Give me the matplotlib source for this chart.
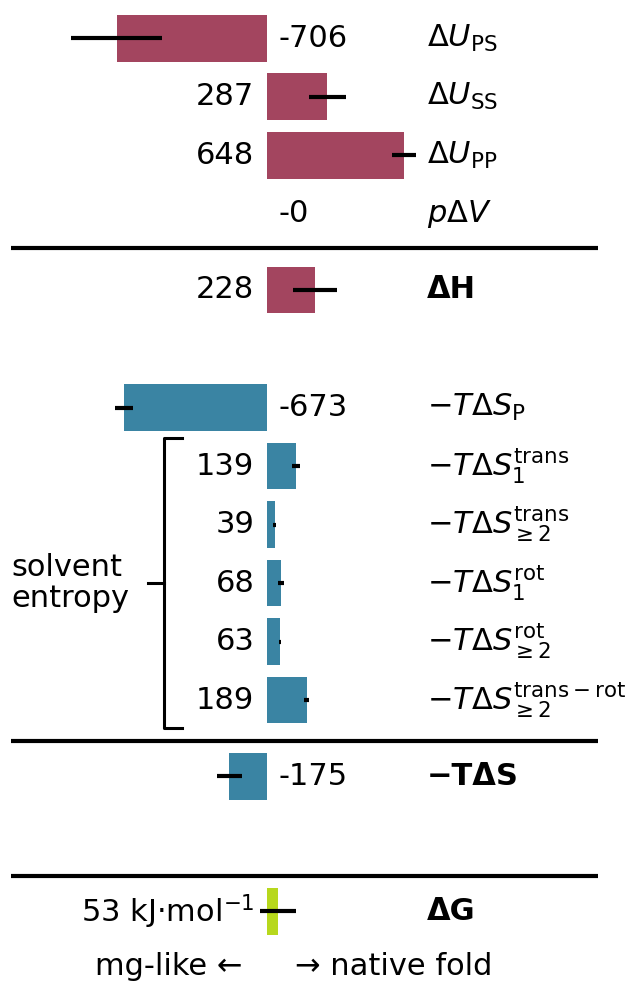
import math

import matplotlib
matplotlib.use("Agg")
import matplotlib.pyplot as plt

# rows, top to bottom
labels = [
    r"$\Delta U_\mathrm{PS}$",
    r"$\Delta U_\mathrm{SS}$",
    r"$\Delta U_\mathrm{PP}$",
    r"$p\Delta V$",
    "ΔH",
    r"$-T\Delta S_\mathrm{P}$",
    r"$-T\Delta S_1^\mathrm{trans}$",
    r"$-T\Delta S_{\geq 2}^\mathrm{trans}$",
    r"$-T\Delta S_1^\mathrm{rot}$",
    r"$-T\Delta S_{\geq 2}^\mathrm{rot}$",
    r"$-T\Delta S_{\geq 2}^{\mathrm{trans}-\mathrm{rot}}$",
    "\u2212TΔS",
    "ΔG",
]
values = [-706, 287, 648, -0.0, 228, -673, 139, 39, 68, 63, 189, -175, 53]
errors = [214, 86, 58, 0, 105, 42, 21, 7, 16, 5, 12, 60, 84]
groups = ["U", "U", "U", "U", "U", "S", "S", "S", "S", "S", "S", "S", "G"]
bold = [False, False, False, False, True, False, False, False, False, False, False, True, True]

# layout (row units, top = 0)
rows = [0, 1, 2, 3, 4.3, 6.31, 7.31, 8.31, 9.31, 10.31, 11.31, 12.61, 14.92]
separators = [3.59, 12.01, 14.32]
colors = {"U": "#a3455f", "S": "#3a84a3", "G": "#b7d81d"}

fig = plt.figure(figsize=(6.38, 9.85), dpi=100)
ax = fig.add_axes([0, 0, 1, 1])
ax.set_xlim(-1257, 1752)
ax.set_ylim(16.18, -0.655)
ax.axis("off")

fs = 22
ax.barh(rows, values, height=0.8, color=[colors[g] for g in groups],
        xerr=errors, error_kw=dict(ecolor="black", lw=3, capsize=0))

off = 57
for y, v, lab, b, g in zip(rows, values, labels, bold, groups):
    txt = f"{v:.0f}"
    if g == "G":
        txt = f"{v:.0f} kJ·mol$^{{-1}}$"
    if math.copysign(1, v) < 0:
        ax.text(off, y, txt, ha="left", va="center", fontsize=fs)
    else:
        ax.text(-off, y, txt, ha="right", va="center", fontsize=fs)
    ax.text(755, y, lab, ha="left", va="center", fontsize=fs,
            fontweight="bold" if b else "normal")

for s in separators:
    ax.plot([-1203, 1564], [s, s], color="black", lw=3, solid_capstyle="butt")

# solvent entropy bracket
bx, top, bot, mid = -483, 6.83, 11.79, 9.31
ax.plot([-400, bx, bx, -400], [top, top, bot, bot], color="black", lw=2.2)
ax.plot([-557, bx], [mid, mid], color="black", lw=2.2)
ax.text(-1203, mid, "solvent\nentropy", ha="left", va="center", fontsize=fs,
        linespacing=1.1)

ax.text(-115, 15.86, "mg-like ←", ha="right", va="center", fontsize=fs)
ax.text(134, 15.86, "→ native fold", ha="left", va="center", fontsize=fs)

fig.savefig("out.png", dpi=100)
